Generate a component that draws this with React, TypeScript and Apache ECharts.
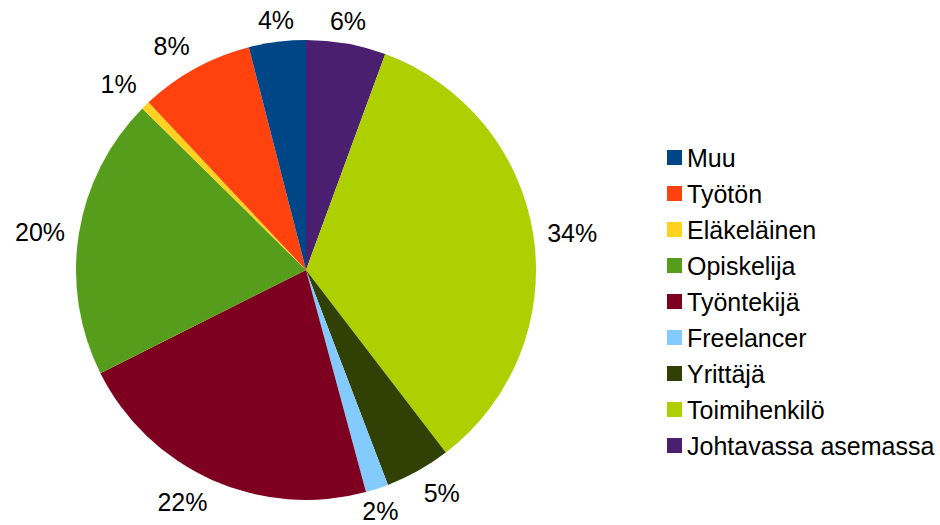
import React, { useEffect, useRef } from "react";
import * as echarts from "echarts";

const categories = [
  "Johtavassa asemassa",
  "Toimihenkilö",
  "Yrittäjä",
  "Freelancer",
  "Työntekijä",
  "Opiskelija",
  "Eläkeläinen",
  "Työtön",
  "Muu",
];
const values = [5.6, 34.0, 4.6, 1.6, 21.8, 19.8, 0.6, 8.0, 4.0];
const colors = [
  "#4b1f6f",
  "#aecf00",
  "#314004",
  "#83caff",
  "#7e0021",
  "#579d1c",
  "#ffd320",
  "#ff420e",
  "#004586",
];
const legendOrder = [
  "Muu",
  "Työtön",
  "Eläkeläinen",
  "Opiskelija",
  "Työntekijä",
  "Freelancer",
  "Yrittäjä",
  "Toimihenkilö",
  "Johtavassa asemassa",
];

const CX = 306;
const CY = 270;
const R = 230;
const GAP = 9;
const FONT = "'Liberation Sans', Arial, sans-serif";

export default function App() {
  const ref = useRef<HTMLDivElement>(null);
  useEffect(() => {
    if (!ref.current) return;
    const chart = echarts.init(ref.current, undefined, { renderer: "svg" });
    const total = values.reduce((a, b) => a + b, 0);
    const cum: number[] = [];
    let acc = 0;
    values.forEach((v) => {
      cum.push(acc);
      acc += v;
    });
    chart.setOption({
      animation: false,
      backgroundColor: "#ffffff",
      legend: {
        orient: "vertical",
        left: 662,
        top: 140,
        itemWidth: 15,
        itemHeight: 15,
        itemGap: 11,
        icon: "rect",
        data: legendOrder,
        textStyle: { fontSize: 25, color: "#000", fontFamily: FONT },
      },
      series: [
        {
          type: "pie",
          center: [CX, CY],
          radius: [0, R],
          startAngle: 90,
          clockwise: true,
          avoidLabelOverlap: false,
          data: categories.map((name, i) => ({
            name,
            value: values[i],
            itemStyle: { color: colors[i] },
          })),
          itemStyle: { borderWidth: 0 },
          label: {
            show: true,
            position: "outside",
            fontSize: 25,
            color: "#000",
            fontFamily: FONT,
            formatter: (p: any) => Math.round((p.value / total) * 100) + "%",
          },
          labelLine: { show: false },
          emphasis: { disabled: true },
          labelLayout: (p: any) => {
            const i = p.dataIndex;
            const mid = ((cum[i] + values[i] / 2) / total) * 360;
            const rad = (mid * Math.PI) / 180;
            const dx = Math.sin(rad);
            const dy = -Math.cos(rad);
            const d = R + GAP + 5 * Math.abs(dx);
            const sector = Math.round(mid / 45) % 8;
            const align =
              sector >= 1 && sector <= 3 ? "left" : sector >= 5 && sector <= 7 ? "right" : "center";
            const va =
              sector === 7 || sector === 0 || sector === 1
                ? "bottom"
                : sector >= 3 && sector <= 5
                ? "top"
                : "middle";
            return { x: CX + dx * d, y: CY + dy * d, align, verticalAlign: va };
          },
        },
      ],
    });
    return () => chart.dispose();
  }, []);
  return (
    <div
      ref={ref}
      style={{ position: "fixed", left: 0, top: 0, width: 940, height: 525 }}
    />
  );
}
